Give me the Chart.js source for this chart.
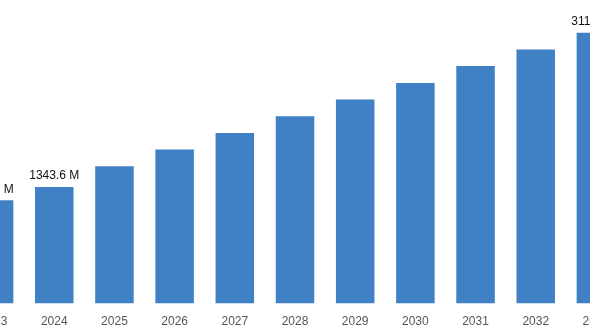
<!DOCTYPE html>
<html>
<head>
<meta charset="utf-8">
<script src="https://cdn.jsdelivr.net/npm/chart.js@4"></script>
<style>
  html, body { margin: 0; padding: 0; background: #fff; }
  #wrap { position: relative; width: 590px; height: 334px; overflow: hidden; }
  #marketChart { position: absolute; left: -36px; top: 0; }
</style>
</head>
<body>
<div id="wrap">
  <canvas id="marketChart" width="662" height="338"></canvas>
</div>
<script>
// market size, USD million
const years = ['2023', '2024', '2025', '2026', '2027', '2028', '2029', '2030', '2031', '2032', '2033'];
const marketSize = [1190, 1343.6, 1582, 1774, 1965, 2158, 2350, 2541, 2734, 2926, 3116.8];
// only these years get a value on top of the bar
const labeledYears = ['2023', '2024', '2033'];

const barLabels = {
    id: 'barLabels',
    afterDatasetsDraw(chart) {
        const ctx = chart.ctx;
        const meta = chart.getDatasetMeta(0);
        ctx.save();
        ctx.font = '12px "Liberation Sans", Arial, sans-serif';
        ctx.fillStyle = '#111';
        ctx.textAlign = 'center';
        ctx.textBaseline = 'bottom';
        meta.data.forEach((bar, i) => {
            if (!labeledYears.includes(years[i])) return;
            ctx.fillText(marketSize[i] + ' M', bar.x, bar.y - 5);
        });
        ctx.restore();
    }
};

const data = {
    labels: years,
    datasets: [{
        data: marketSize,
        backgroundColor: '#4080c5',
        borderWidth: 0,
        categoryPercentage: 0.8,
        barPercentage: 0.8
    }]
};

const config = {
    type: 'bar',
    data: data,
    options: {
        responsive: false,
        animation: false,
        layout: { padding: { top: 10, bottom: 6, left: 0, right: 0 } },
        plugins: {
            legend: { display: false },
            tooltip: { enabled: false }
        },
        scales: {
            x: {
                grid: { display: false },
                border: { display: false },
                ticks: {
                    autoSkip: false,
                    maxRotation: 0,
                    color: '#555',
                    padding: 3,
                    font: { family: '"Liberation Sans", Arial, sans-serif', size: 12 }
                }
            },
            y: {
                display: false,
                min: 0,
                max: 3380
            }
        }
    },
    plugins: [barLabels]
};

new Chart(document.getElementById('marketChart'), config);
</script>
</body>
</html>
